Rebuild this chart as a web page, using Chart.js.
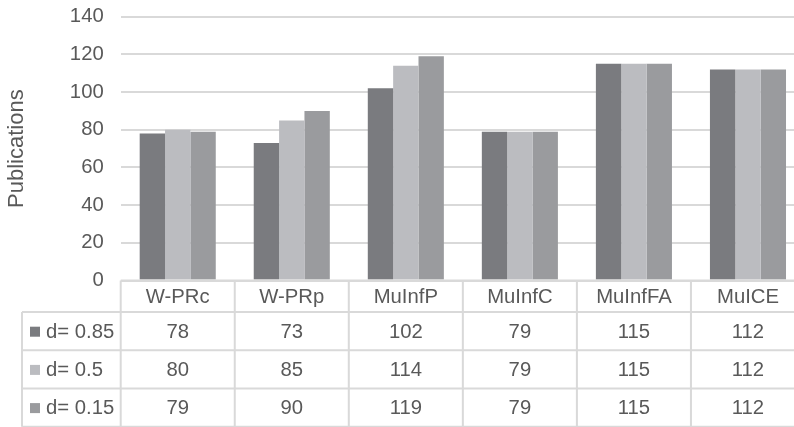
<!DOCTYPE html>
<html>
<head>
<meta charset="utf-8">
<script src="https://cdn.jsdelivr.net/npm/chart.js@4.4.1/dist/chart.umd.min.js"></script>
<style>
  html, body { margin: 0; padding: 0; background: #ffffff; overflow: hidden; }
  #wrap { width: 805px; height: 427px; }
</style>
</head>
<body>
<div id="wrap"><canvas id="chart" width="805" height="427"></canvas></div>
<script>
// Publications per method, for three damping factors
const categories = ['W-PRc', 'W-PRp', 'MuInfP', 'MuInfC', 'MuInfFA', 'MuICE'];
const seriesNames = ['d= 0.85', 'd= 0.5', 'd= 0.15'];
const d085 = [78, 73, 102, 79, 115, 112];
const d050 = [80, 85, 114, 79, 115, 112];
const d015 = [79, 90, 119, 79, 115, 112];
const yTicks = [0, 20, 40, 60, 80, 100, 120, 140];

const colors = ['#7a7b7f', '#bbbcc0', '#9a9b9e'];
const seriesValues = [d085, d050, d015];
const textColor = '#595959';
const lineColor = '#d9d9d9';
const fontFamily = '"Liberation Sans", Arial, Helvetica, sans-serif';
const fontSize = 20.3;

// Data table under the plot, aligned with the category scale
const dataTablePlugin = {
  id: 'dataTable',
  afterDraw(chart) {
    const ctx = chart.ctx;
    const area = chart.chartArea;
    const n = categories.length;
    const colW = (area.right - area.left) / n;
    const top = area.bottom;
    const headerBottom = top + 31.5;
    const rowH = 38.2;
    const legendLeft = 22;
    const bottom = headerBottom + rowH * seriesNames.length;

    ctx.save();
    ctx.strokeStyle = lineColor;
    ctx.lineWidth = 2;
    ctx.beginPath();
    // header top
    ctx.moveTo(area.left, top); ctx.lineTo(area.right, top);
    // row separators
    for (let r = 0; r <= seriesNames.length; r++) {
      const y = headerBottom + r * rowH;
      ctx.moveTo(legendLeft, y); ctx.lineTo(area.right, y);
    }
    // verticals
    ctx.moveTo(legendLeft, headerBottom); ctx.lineTo(legendLeft, bottom);
    for (let i = 0; i <= n; i++) {
      const x = area.left + i * colW;
      ctx.moveTo(x, top); ctx.lineTo(x, bottom);
    }
    ctx.stroke();

    ctx.font = fontSize + 'px ' + fontFamily;
    ctx.fillStyle = textColor;
    ctx.textAlign = 'center';
    ctx.textBaseline = 'middle';
    const xScale = chart.scales.x;
    categories.forEach((c, i) => {
      const cx = xScale.getPixelForValue(i);
      ctx.fillText(c, cx, (top + headerBottom) / 2 + 1);
    });

    seriesNames.forEach((name, r) => {
      const cy = headerBottom + r * rowH + rowH / 2 + 1;
      ctx.fillStyle = colors[r];
      ctx.fillRect(30, cy - 5.5, 10, 10);
      ctx.fillStyle = textColor;
      ctx.textAlign = 'left';
      ctx.fillText(name, 46, cy);
      ctx.textAlign = 'center';
      seriesValues[r].forEach((v, i) => {
        ctx.fillText(String(v), xScale.getPixelForValue(i), cy);
      });
    });
    ctx.restore();
  }
};

new Chart(document.getElementById('chart'), {
  type: 'bar',
  data: {
    labels: categories,
    datasets: seriesNames.map((name, i) => ({
      label: name,
      data: seriesValues[i],
      backgroundColor: colors[i],
      borderWidth: 0,
      categoryPercentage: 0.667,
      barPercentage: 1.0
    }))
  },
  options: {
    responsive: false,
    animation: false,
    layout: { padding: { top: 16.7, bottom: 146.4, left: 0, right: 0 } },
    plugins: { legend: { display: false }, tooltip: { enabled: false } },
    scales: {
      x: { display: false },
      y: {
        min: 0,
        max: 140,
        afterBuildTicks(scale) { scale.ticks = yTicks.map(v => ({ value: v })); },
        afterFit(scale) {
          scale.width = 120.7;
          scale.paddingTop = 0;
          scale.paddingBottom = 0;
        },
        border: { display: false },
        grid: { color: lineColor, lineWidth: 2, drawTicks: false },
        ticks: {
          color: textColor,
          padding: 17,
          font: { family: fontFamily, size: fontSize }
        },
        title: {
          display: true,
          text: 'Publications',
          color: textColor,
          padding: { top: 3.8, bottom: 0 },
          font: { family: fontFamily, size: 22 }
        }
      }
    }
  },
  plugins: [dataTablePlugin]
});
</script>
</body>
</html>
